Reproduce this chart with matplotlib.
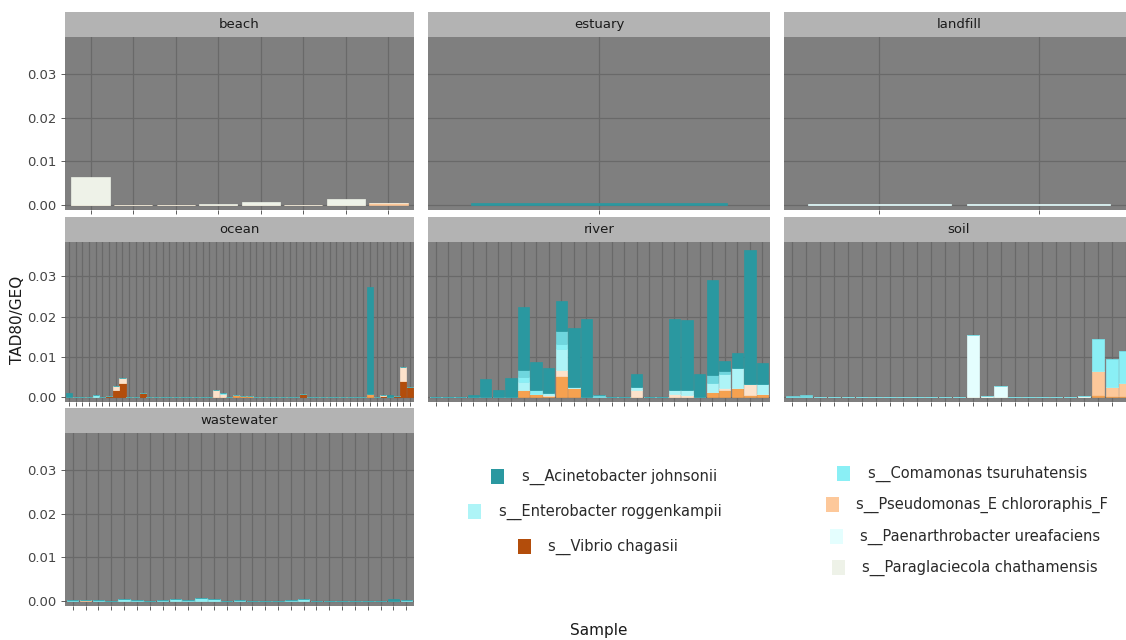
import matplotlib
matplotlib.use("Agg")
import matplotlib.pyplot as plt
from matplotlib.patches import Patch
import numpy as np

plt.rcParams["font.family"] = ["DejaVu Sans"]

# ---------------- data ----------------
species_labels = [
    "s__Acinetobacter johnsonii",
    "s__Enterobacter roggenkampii",
    "s__Vibrio chagasii",
    "s__Comamonas tsuruhatensis",
    "s__Pseudomonas_E chlororaphis_F",
    "s__Paenarthrobacter ureafaciens",
    "s__Paraglaciecola chathamensis",
]
species_colors = ["#2A98A0", "#AEF4F7", "#B34D0B", "#8AEFF5", "#FDC89A", "#E4FEFE", "#EEF2E8"]
# extra (unlabelled) taxa visible in the stacks
extra_keys = ["mid teal", "orange", "light peach"]
extra_colors = ["#6FD6DE", "#F5A150", "#FCE2CB"]

facets = ["beach", "estuary", "landfill", "ocean", "river", "soil", "wastewater"]
n_samples = {"beach": 8, "estuary": 1, "landfill": 2, "ocean": 52, "river": 27, "soil": 25, "wastewater": 27}

# beach
beach_paraglaciecola = [0.0063, 0, 0.0001, 0.0002, 0.0006, 0, 0.0014, 0]
beach_pseudomonas = [0, 0, 0, 0, 0, 0, 0, 0.0004]
# estuary / landfill
estuary_acinetobacter = [0.0004]
landfill_paenarthrobacter = [0.0003, 0.0003]

# ocean (52 samples)
ocean_acinetobacter = [0.0012, 0, 0, 0, 0, 0, 0, 0, 0, 0, 0, 0, 0, 0, 0, 0, 0, 0, 0, 0,
                       0, 0, 0, 0, 0, 0, 0, 0, 0, 0, 0, 0, 0, 0, 0, 0, 0, 0, 0, 0,
                       0, 0, 0.0001, 0, 0, 0.0266, 0.0001, 0, 0.0007, 0, 0.0002, 0]
ocean_comamonas = [0, 0, 0, 0, 0.0005, 0, 0, 0, 0, 0, 0, 0, 0, 0, 0, 0, 0, 0, 0, 0,
                   0, 0, 0, 0.0002, 0, 0, 0, 0, 0, 0, 0, 0, 0, 0, 0, 0, 0, 0, 0, 0,
                   0, 0, 0, 0, 0, 0, 0, 0, 0, 0, 0, 0]
ocean_vibrio = [0, 0, 0.0002, 0, 0, 0, 0.0004, 0.0017, 0.0036, 0, 0, 0.0012, 0, 0, 0.0001, 0.0001, 0, 0, 0, 0,
                0, 0, 0, 0, 0, 0, 0, 0, 0, 0, 0.0001, 0.0001, 0, 0, 0.0001, 0.0009, 0.0001, 0, 0, 0,
                0, 0, 0, 0.0001, 0, 0, 0, 0.0004, 0, 0.0004, 0.0040, 0.0026]
ocean_light_peach = [0, 0, 0, 0, 0, 0, 0, 0.0010, 0.0011, 0, 0, 0, 0, 0, 0, 0, 0, 0, 0, 0,
                     0, 0, 0.0017, 0.0009, 0, 0, 0, 0, 0, 0, 0, 0, 0, 0, 0, 0, 0, 0, 0, 0,
                     0, 0, 0, 0, 0, 0, 0, 0.0003, 0, 0, 0.0034, 0]
ocean_orange = [0, 0, 0, 0, 0, 0, 0, 0, 0, 0, 0, 0, 0, 0, 0, 0, 0, 0, 0, 0,
                0, 0, 0, 0, 0, 0.0007, 0.0003, 0.0004, 0, 0, 0, 0, 0, 0, 0, 0, 0, 0, 0, 0,
                0, 0, 0, 0, 0, 0.0008, 0, 0, 0, 0, 0, 0]

# river (27 samples)
river_acinetobacter = [0, 0, 0, 0.0007, 0.0045, 0.0019, 0.0049, 0.0157, 0.0068, 0.0063, 0.0075, 0.0147, 0.0193, 0,
                       0, 0, 0.0033, 0, 0.0001, 0.0178, 0.0174, 0.0058, 0.0234, 0.0024, 0.0037, 0.0331, 0.0053]
river_mid_teal = [0.0001, 0.0001, 0.0001, 0, 0, 0, 0, 0.0017, 0, 0, 0.0031, 0, 0, 0.0005,
                  0, 0, 0, 0, 0, 0, 0, 0, 0.0021, 0.0007, 0, 0, 0]
river_comamonas = [0, 0, 0, 0, 0, 0, 0, 0.0012, 0.0011, 0, 0.0012, 0, 0, 0,
                   0, 0, 0, 0, 0, 0, 0, 0, 0, 0, 0, 0, 0]
river_enterobacter = [0, 0, 0, 0, 0, 0, 0, 0.0021, 0, 0.0003, 0.0054, 0.0004, 0, 0,
                      0, 0, 0.0009, 0, 0, 0.0009, 0.0011, 0, 0.0022, 0.0036, 0.0050, 0, 0.0025]
river_light_peach = [0, 0, 0, 0, 0, 0, 0, 0, 0, 0.0003, 0.0015, 0, 0, 0,
                     0, 0, 0.0017, 0, 0, 0.0008, 0.0007, 0, 0, 0.0006, 0, 0.0028, 0]
river_orange = [0, 0, 0, 0, 0, 0, 0, 0.0018, 0.0008, 0.0004, 0.0052, 0.0022, 0, 0,
                0, 0, 0, 0, 0, 0, 0, 0, 0.0013, 0.0017, 0.0023, 0.0005, 0.0008]
river_paraglaciecola = [0, 0, 0, 0, 0, 0, 0, 0, 0, 0, 0, 0, 0, 0,
                        0, 0, 0, 0.0002, 0, 0, 0, 0, 0, 0, 0, 0, 0]

# soil (25 samples)
soil_mid_teal = [0.0003, 0.0007, 0.0001, 0.0001, 0.0001, 0.0001, 0, 0, 0, 0, 0, 0, 0,
                 0, 0, 0, 0, 0.0001, 0.0002, 0, 0, 0.0001, 0, 0, 0]
soil_paenarthrobacter = [0, 0, 0, 0, 0, 0, 0, 0, 0, 0, 0, 0, 0,
                         0.0155, 0.0004, 0.0027, 0, 0, 0, 0, 0.0002, 0.0003, 0, 0, 0]
soil_comamonas = [0, 0, 0, 0, 0, 0, 0, 0, 0, 0, 0, 0, 0,
                  0, 0, 0, 0, 0, 0, 0, 0, 0, 0.0078, 0.0069, 0.0079]
soil_pseudomonas = [0, 0, 0, 0, 0, 0, 0, 0, 0, 0, 0, 0, 0,
                    0, 0, 0, 0, 0, 0, 0, 0, 0, 0.0059, 0.0021, 0.0031]
soil_orange = [0, 0, 0, 0, 0, 0, 0, 0, 0, 0, 0, 0, 0,
               0, 0, 0, 0, 0, 0, 0, 0, 0, 0.0007, 0.0004, 0.0004]

# wastewater (27 samples)
wastewater_comamonas = [0, 0, 0, 0, 0.0004, 0, 0, 0, 0.0005, 0, 0.0006, 0.0005, 0, 0,
                        0, 0, 0, 0, 0.0005, 0, 0, 0, 0, 0, 0, 0, 0]
wastewater_mid_teal = [0.0002, 0, 0.0002, 0.0001, 0, 0.0002, 0.0001, 0.0002, 0, 0.0003, 0, 0, 0, 0.0002,
                       0.0001, 0.0001, 0.0001, 0.0003, 0, 0.0001, 0.0001, 0.0001, 0.0001, 0.0001, 0.0001, 0, 0.0002]
wastewater_pseudomonas = [0, 0.0002, 0, 0, 0, 0, 0, 0, 0, 0, 0, 0, 0, 0,
                          0, 0, 0, 0, 0, 0, 0, 0, 0, 0, 0, 0, 0]
wastewater_acinetobacter = [0, 0, 0, 0, 0, 0, 0, 0, 0, 0, 0, 0, 0, 0,
                            0, 0, 0, 0, 0, 0, 0, 0, 0, 0, 0, 0.0005, 0]

y_ticks = [0.0, 0.01, 0.02, 0.03]
y_tick_labels = ["0.00", "0.01", "0.02", "0.03"]

# ---------------- assemble ----------------
facet_data = {
    "beach": {"s__Paraglaciecola chathamensis": beach_paraglaciecola,
              "s__Pseudomonas_E chlororaphis_F": beach_pseudomonas},
    "estuary": {"s__Acinetobacter johnsonii": estuary_acinetobacter},
    "landfill": {"s__Paenarthrobacter ureafaciens": landfill_paenarthrobacter},
    "ocean": {"s__Acinetobacter johnsonii": ocean_acinetobacter,
              "s__Comamonas tsuruhatensis": ocean_comamonas,
              "s__Vibrio chagasii": ocean_vibrio,
              "light peach": ocean_light_peach,
              "orange": ocean_orange},
    "river": {"s__Acinetobacter johnsonii": river_acinetobacter,
              "mid teal": river_mid_teal,
              "s__Comamonas tsuruhatensis": river_comamonas,
              "s__Enterobacter roggenkampii": river_enterobacter,
              "light peach": river_light_peach,
              "orange": river_orange,
              "s__Paraglaciecola chathamensis": river_paraglaciecola},
    "soil": {"mid teal": soil_mid_teal,
             "s__Paenarthrobacter ureafaciens": soil_paenarthrobacter,
             "s__Comamonas tsuruhatensis": soil_comamonas,
             "s__Pseudomonas_E chlororaphis_F": soil_pseudomonas,
             "orange": soil_orange},
    "wastewater": {"s__Comamonas tsuruhatensis": wastewater_comamonas,
                   "mid teal": wastewater_mid_teal,
                   "s__Pseudomonas_E chlororaphis_F": wastewater_pseudomonas,
                   "s__Acinetobacter johnsonii": wastewater_acinetobacter},
}

color_of = dict(zip(species_labels, species_colors))
color_of.update(dict(zip(extra_keys, extra_colors)))

stack_order = ["s__Vibrio chagasii", "orange", "s__Pseudomonas_E chlororaphis_F", "light peach",
               "s__Paraglaciecola chathamensis", "s__Paenarthrobacter ureafaciens",
               "s__Enterobacter roggenkampii", "s__Comamonas tsuruhatensis", "mid teal",
               "s__Acinetobacter johnsonii"]

# ---------------- layout ----------------
W, H = 1126, 640
fig = plt.figure(figsize=(W / 100, H / 100), dpi=100)
fig.patch.set_facecolor("white")

cols = [(65, 414), (428, 770), (784, 1134)]
rows = [(37, 210), (242, 402), (433, 606)]
strip_h = 25
panel_pos = {"beach": (0, 0), "estuary": (0, 1), "landfill": (0, 2),
             "ocean": (1, 0), "river": (1, 1), "soil": (1, 2), "wastewater": (2, 0)}

y_lim = (-0.00115, 0.0385)
bg = "#7F7F7F"
grid_c = "#696969"

for name in facets:
    r, c = panel_pos[name]
    x0, x1 = cols[c]
    y0, y1 = rows[r]
    ax = fig.add_axes([x0 / W, 1 - y1 / H, (x1 - x0) / W, (y1 - y0) / H])
    ax.set_facecolor(bg)
    n = n_samples[name]
    x = np.arange(n)
    bottom = np.zeros(n)
    data = facet_data[name]
    for key in stack_order:
        if key in data:
            vals = np.array(data[key], dtype=float)
            ax.bar(x, vals, bottom=bottom, width=0.9, color=color_of[key],
                   edgecolor=color_of[key], linewidth=0.5, zorder=3)
            bottom += vals
    ax.set_xlim(-0.6, n - 0.4)
    ax.set_ylim(*y_lim)
    ax.set_xticks(x)
    ax.set_xticklabels([])
    ax.set_yticks(y_ticks)
    ax.grid(True, color=grid_c, linewidth=0.9, zorder=0)
    ax.set_axisbelow(True)
    for s in ax.spines.values():
        s.set_visible(False)
    ax.tick_params(axis="x", length=3, width=0.6, color="#444444", pad=1)
    if c == 0:
        ax.set_yticklabels(y_tick_labels)
        ax.tick_params(axis="y", length=3, width=0.6, color="#444444", labelsize=9.5,
                       labelcolor="#444444", pad=3)
    else:
        ax.set_yticklabels([])
        ax.tick_params(axis="y", length=0)
    # strip
    sax = fig.add_axes([x0 / W, 1 - y0 / H, (x1 - x0) / W, strip_h / H])
    sax.set_facecolor("#B3B3B3")
    sax.set_xticks([])
    sax.set_yticks([])
    for s in sax.spines.values():
        s.set_visible(False)
    sax.text(0.5, 0.5, name, ha="center", va="center", fontsize=9.5, color="#1A1A1A",
             transform=sax.transAxes)

fig.text(18 / W, 1 - 320 / H, "TAD80/GEQ", rotation=90, ha="center", va="center",
         fontsize=11, color="#1A1A1A")
fig.text(599 / W, 1 - 630 / H, "Sample", ha="center", va="center", fontsize=11, color="#1A1A1A")

# legend entries, each centred at its own position
legend_centres = [(604, 477), (595, 512), (598, 547), (962, 474), (967, 505), (965, 537), (965, 568)]
for lab, col, (cx, cy) in zip(species_labels, species_colors, legend_centres):
    h = Patch(facecolor=col, edgecolor="none")
    fig.legend(handles=[h], labels=[lab], loc="center", bbox_to_anchor=(cx / W, 1 - cy / H),
               frameon=False, fontsize=10.5, handlelength=0.9, handleheight=1.2,
               handletextpad=1.2, borderpad=0, labelcolor="#2A2A2A")

fig.savefig("out.png", dpi=100)
